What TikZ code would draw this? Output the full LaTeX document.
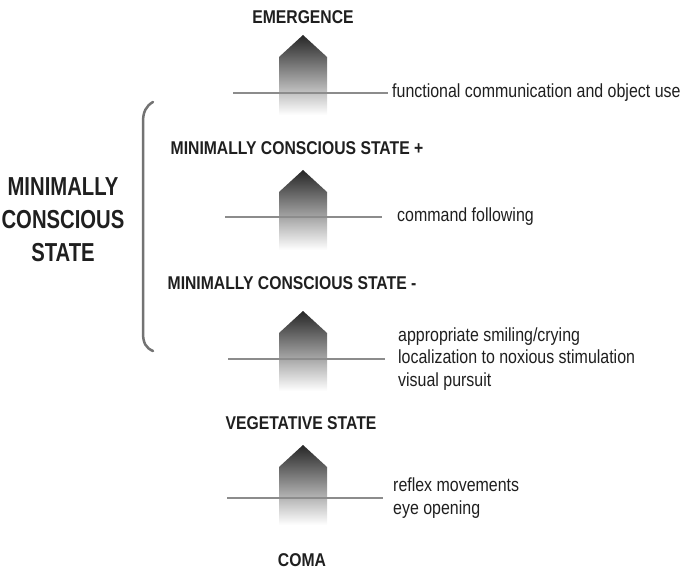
\documentclass[tikz,border=0pt]{standalone}
\usepackage{fontspec}
\setmainfont{Liberation Sans}
\newfontfamily\labelfont[FakeStretch=0.85]{Liberation Sans}
\newfontfamily\sidefont[FakeStretch=0.78]{Liberation Sans}
\newfontfamily\notefont[FakeStretch=0.84]{Liberation Sans}
\usepackage{tikz}
\usetikzlibrary{
  arrows.meta,
  positioning,
  calc
}

\begin{document}
\begin{tikzpicture}[
      x=1pt, y=-1pt,
      estado/.style={font=\labelfont\bfseries\fontsize{18.5}{22}\selectfont, text=black!88, inner sep=0pt},
      nota/.style={font=\notefont\fontsize{19}{22.5}\selectfont, text=black!88, align=left, anchor=west, inner sep=0pt},
      limiar/.style={draw=black!45, line width=1.8pt},
      seta/.style={top color=black!85, bottom color=white, draw=none}
  ]
      \useasboundingbox (0,0) rectangle (682,572);

      % Setas sombreadas (ápice em y)
      \foreach \y in {35, 170, 311, 445}
        \path[seta] (303,\y) -- (327,\y+22) -- (327,\y+80) -- (279,\y+80) -- (279,\y+22) -- cycle;

      % Estados
      \node[estado] (emerg) at (303,17) {EMERGENCE};
      \node[estado] (mcsplus) at (297,148) {MINIMALLY CONSCIOUS STATE +};
      \node[estado] (mcsminus) at (292,283) {MINIMALLY CONSCIOUS STATE -};
      \node[estado] (veg) at (301,423) {VEGETATIVE STATE};
      \node[estado] (coma) at (302,560) {COMA};

      % Limiares
      \coordinate (l1a) at (233,93);  \coordinate (l1b) at (388,93);
      \coordinate (l2a) at (225,217); \coordinate (l2b) at (382,217);
      \coordinate (l3a) at (228,359); \coordinate (l3b) at (385,359);
      \coordinate (l4a) at (227,498); \coordinate (l4b) at (383,498);
      \draw[limiar] (l1a) -- (l1b);
      \draw[limiar] (l2a) -- (l2b);
      \draw[limiar] (l3a) -- (l3b);
      \draw[limiar] (l4a) -- (l4b);

      % Critérios
      \node[nota, right=4pt of l1b] (funcao) {functional communication and object use};
      \node[nota, right=15pt of l2b] (comando) {command following};
      \node[nota, right=13pt of l3b] (sinais) {appropriate smiling/crying\\localization to noxious stimulation\\visual pursuit};
      \node[nota, right=10pt of l4b] (reflexo) {reflex movements\\eye opening};

      % Chave lateral
      \draw[black!55, line width=2.5pt, line cap=round]
        (153,102) .. controls (146,106) and (143,112) .. (143,122) -- (143,333)
        .. controls (143,343) and (146,348) .. (153,351);
      \node[font=\sidefont\bfseries\fontsize{26}{33}\selectfont, text=black!88, align=center] (mcs) at (63,220) {MINIMALLY\\CONSCIOUS\\STATE};
  \end{tikzpicture}
\end{document}
